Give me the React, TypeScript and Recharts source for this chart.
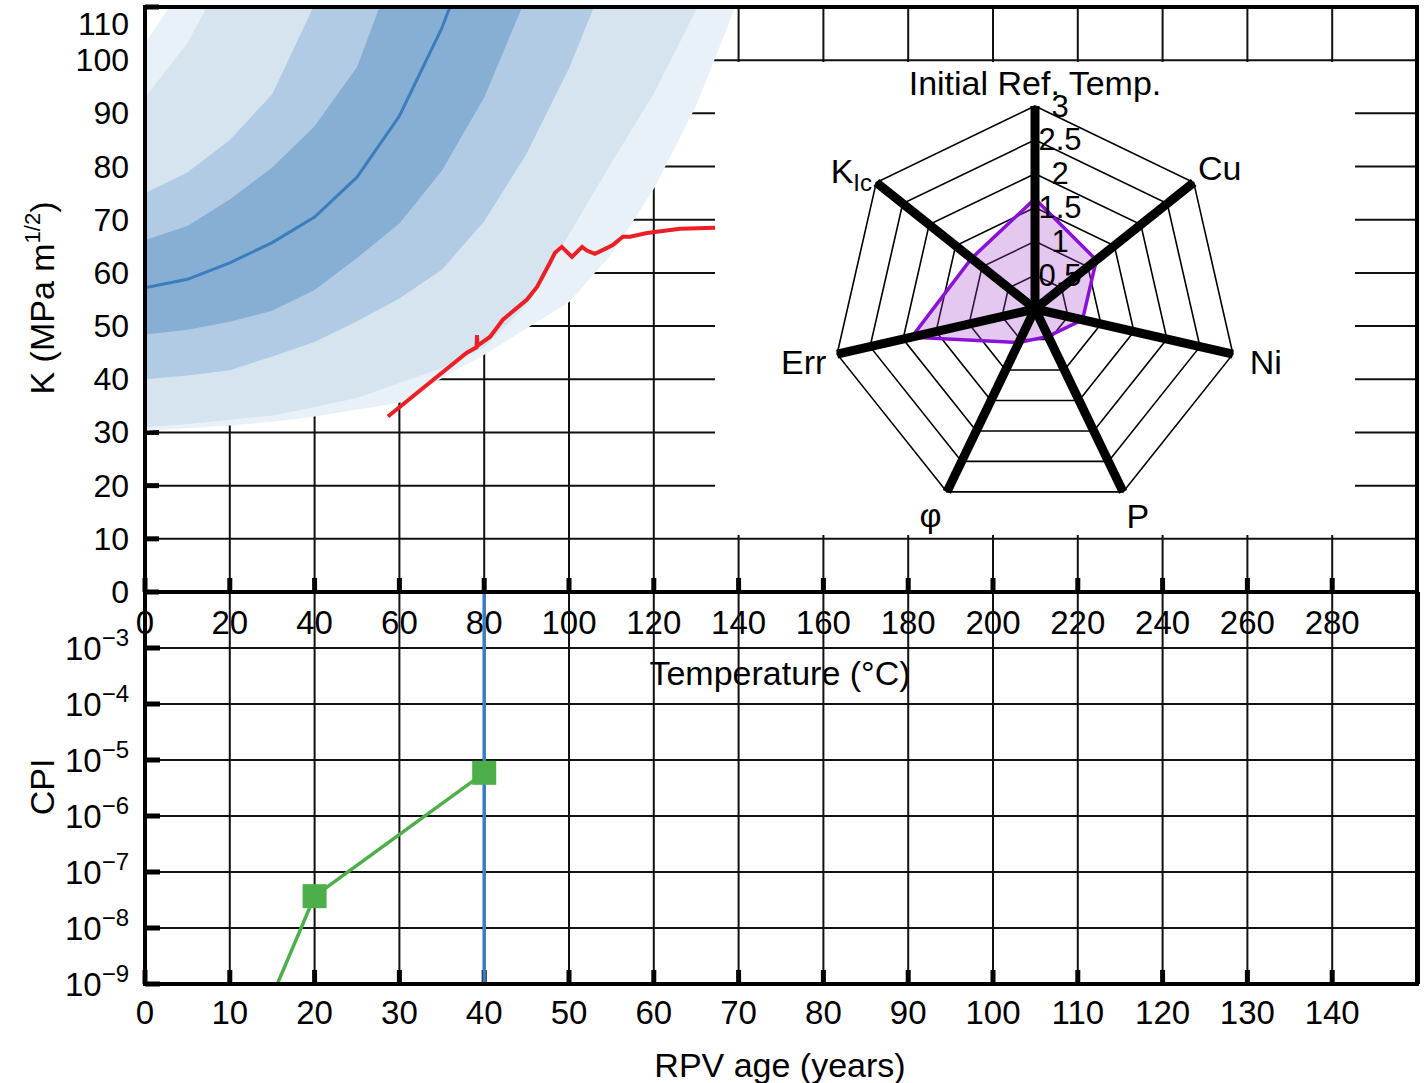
import React from 'react';
import {
  ComposedChart,
  Area,
  Line,
  XAxis,
  YAxis,
  CartesianGrid,
  ReferenceArea,
  ReferenceLine,
  RadarChart,
  PolarGrid,
  PolarAngleAxis,
  PolarRadiusAxis,
  Radar,
} from 'recharts';

const FONT = '"Liberation Sans", Arial, Helvetica, sans-serif';
const TICK_FONT = 33;

// ---------------- Top panel (master curve) ----------------
const tempTicks = [0, 20, 40, 60, 80, 100, 120, 140, 160, 180, 200, 220, 240, 260, 280];
const kTicks = [0, 10, 20, 30, 40, 50, 60, 70, 80, 90, 100, 110];

const bandTemps = [0, 10, 20, 30, 40, 50, 60, 70, 80, 90, 100, 110, 120, 130, 140, 150];
const upperOuter = [103.2, 115, 150, 150, 150, 150, 150, 150, 150, 150, 150, 150, 150, 150, 150, 150];
const upperWide = [93, 103.2, 118, 150, 150, 150, 150, 150, 150, 150, 150, 150, 150, 150, 150, 150];
const upperMid = [75, 78.9, 85, 93.6, 110.5, 135, 150, 150, 150, 150, 150, 150, 150, 150, 150, 150];
const upperInner = [66.2, 68.8, 73.8, 79.8, 87.6, 98.7, 120, 150, 150, 150, 150, 150, 150, 150, 150, 150];
const medianK = [57.2, 58.8, 61.9, 65.7, 70.5, 78, 89.5, 106, 127, 150, 150, 150, 150, 150, 150, 150];
const lowerInner = [48.4, 49.3, 50.8, 52.9, 56.8, 62.8, 69.3, 79.2, 93, 112, 150, 150, 150, 150, 150, 150];
const lowerMid = [40, 40.7, 41.7, 44.3, 47, 50.9, 55.2, 60.6, 69.7, 82.4, 98.5, 118, 150, 150, 150, 150];
const lowerWide = [31, 31.6, 32.4, 33.2, 34.8, 36.5, 39.3, 42.1, 46, 54, 67.2, 80.7, 93.7, 109.5, 125, 150];
const lowerOuter = [30.3, 30.8, 31.3, 32, 33, 34.3, 35.6, 40.2, 44.6, 49.6, 54.5, 63.5, 75.8, 91.5, 111.5, 135];

const measuredT = [57.3, 67.2, 75.9, 78.2, 78.3, 78.4, 81.4, 84.4, 90.1, 92.5, 95.5, 96.7, 98.3, 100.7, 103.1, 104.2, 106.1, 109, 110.4, 112.7, 114.4, 118.4, 126.2, 134.4, 140];
const measuredK = [33, 39.4, 45, 46.0, 48.3, 46.3, 48, 51.2, 55, 57.4, 61.9, 63.8, 64.9, 63, 64.9, 64.2, 63.6, 64.7, 65.3, 66.8, 66.8, 67.5, 68.3, 68.5, 68.6];

const bandData = bandTemps.map((t, i) => ({
  t,
  outer: [lowerOuter[i], upperOuter[i]],
  wide: [lowerWide[i], upperWide[i]],
  mid: [lowerMid[i], upperMid[i]],
  inner: [lowerInner[i], upperInner[i]],
  median: medianK[i],
}));
const measuredData = measuredT.map((t, i) => ({ t, k: measuredK[i] }));

// ---------------- Bottom panel (CPI) ----------------
const ageTicks = [0, 10, 20, 30, 40, 50, 60, 70, 80, 90, 100, 110, 120, 130, 140];
const cpiTicks = [1e-9, 1e-8, 1e-7, 1e-6, 1e-5, 1e-4, 1e-3];
const minorMultipliers = [2, 3, 4, 5, 6, 7, 8, 9];
const minorDecades = [1e-9, 1e-8, 1e-7, 1e-6, 1e-5, 1e-4, 1e-3];
const cpiMinorTicks = minorDecades.flatMap((d) => minorMultipliers.map((m) => m * d));
const ageYears = [10, 20, 40];
const cpiValues = [1e-11, 3.7e-8, 5.9e-6];
const designLife = 40;
const cpiData = ageYears.map((a, i) => ({ age: a, cpi: cpiValues[i] }));

// ---------------- Radar inset ----------------
const radarAxes = ['Initial Ref. Temp.', 'Cu', 'Ni', 'P', 'φ', 'Err', 'K_Ic'];
const radarValues = [1.63, 1.16, 0.72, 0.45, 0.55, 1.87, 1.2];
const radarTicks = [0, 0.5, 1, 1.5, 2, 2.5, 3];
const radarData = radarAxes.map((a, i) => ({ axis: a, value: radarValues[i] }));

const angleLabelStyle = [
  { dx: 0, dy: -3, anchor: 'middle' },
  { dx: -2, dy: 3, anchor: 'start' },
  { dx: 9, dy: 18, anchor: 'start' },
  { dx: 0, dy: 29, anchor: 'start' },
  { dx: -13, dy: 28, anchor: 'middle' },
  { dx: -3, dy: 18, anchor: 'end' },
  { dx: 2, dy: 6, anchor: 'end' },
];

const C = {
  outer: '#e8f0f8',
  wide: '#d6e4f0',
  mid: '#b0cbe3',
  inner: '#87afd4',
  median: '#3b7dbf',
  red: '#ec1f26',
  green: '#4daf4a',
};

const tickLineStyle = { stroke: '#000', strokeWidth: 5 };
const minorTickStyle = { stroke: '#000', strokeWidth: 3 };
const axisLineStyle = { stroke: '#000', strokeWidth: 4 };

function TempTick(props: any) {
  const { x, y, payload } = props;
  return (
    <text x={x} y={y} textAnchor="middle" dominantBaseline="central" fontFamily={FONT} fontSize={TICK_FONT} fill="#000">
      {payload.value}
    </text>
  );
}

function KTick(props: any) {
  const { x, y, payload } = props;
  const dy = payload.value === 110 ? 17 : 0;
  return (
    <text x={x} y={y + dy} textAnchor="end" dominantBaseline="central" fontFamily={FONT} fontSize={32} fill="#000">
      {payload.value}
    </text>
  );
}

function AgeTick(props: any) {
  const { x, y, payload } = props;
  return (
    <text x={x} y={y} textAnchor="middle" dominantBaseline="central" fontFamily={FONT} fontSize={TICK_FONT} fill="#000">
      {payload.value}
    </text>
  );
}

function CpiTick(props: any) {
  const { x, y, payload } = props;
  const exp = Math.round(Math.log10(payload.value));
  return (
    <text x={x} y={y} textAnchor="end" fontFamily={FONT} fill="#000">
      <tspan fontSize={TICK_FONT} dy={12}>10</tspan>
      <tspan fontSize={24} dy={-14}>{'\u2212' + Math.abs(exp)}</tspan>
    </text>
  );
}

function AngleTick(props: any) {
  const { x, y, payload } = props;
  const idx = radarAxes.indexOf(payload.value);
  const s = angleLabelStyle[idx >= 0 ? idx : 0];
  if (payload.value === 'K_Ic') {
    return (
      <text x={x + s.dx} y={y + s.dy} textAnchor={s.anchor as any} fontFamily={FONT} fontSize={34} fill="#000">
        <tspan>K</tspan>
        <tspan fontSize={24} dy={8}>Ic</tspan>
      </text>
    );
  }
  return (
    <text x={x + s.dx} y={y + s.dy} textAnchor={s.anchor as any} fontFamily={FONT} fontSize={34} fill="#000">
      {payload.value}
    </text>
  );
}

function RadiusTick(props: any) {
  const { x, y, payload } = props;
  if (payload.value === 0) return <g />;
  return (
    <text x={x + 25} y={y} textAnchor="middle" dominantBaseline="central" fontFamily={FONT} fontSize={31} fill="#000">
      {payload.value}
    </text>
  );
}

function TopChart() {
  return (
    <ComposedChart width={1426} height={700} data={bandData} margin={{ top: 6, right: 8, bottom: 107, left: 144 }}>
      <CartesianGrid stroke="#111" strokeWidth={2} zIndex={-100} />
      <XAxis
        dataKey="t"
        type="number"
        domain={[0, 300]}
        ticks={tempTicks}
        interval={0}
        allowDataOverflow
        height={1}
        tickSize={-14}
        tickMargin={44}
        tickLine={tickLineStyle}
        axisLine={axisLineStyle}
        tick={(p: any) => <TempTick {...p} />}
        zIndex={50}
      />
      <XAxis
        xAxisId="top"
        orientation="top"
        dataKey="t"
        type="number"
        domain={[0, 300]}
        ticks={tempTicks}
        interval={0}
        allowDataOverflow
        height={1}
        tickSize={-14}
        tickLine={tickLineStyle}
        axisLine={axisLineStyle}
        tick={false}
        zIndex={50}
      />
      <YAxis
        type="number"
        domain={[0, 110]}
        ticks={kTicks}
        interval={0}
        allowDataOverflow
        width={1}
        tickSize={-14}
        tickMargin={30}
        tickLine={tickLineStyle}
        axisLine={axisLineStyle}
        tick={(p: any) => <KTick {...p} />}
        zIndex={50}
      />
      <YAxis
        yAxisId="right"
        orientation="right"
        type="number"
        domain={[0, 110]}
        ticks={kTicks}
        interval={0}
        allowDataOverflow
        width={1}
        tickSize={-14}
        tickLine={tickLineStyle}
        axisLine={axisLineStyle}
        tick={false}
        zIndex={50}
      />
      <Area type="linear" dataKey="outer" stroke="none" fill={C.outer} fillOpacity={1} isAnimationActive={false} zIndex={100} />
      <Area type="linear" dataKey="wide" stroke="none" fill={C.wide} fillOpacity={1} isAnimationActive={false} zIndex={101} />
      <Area type="linear" dataKey="mid" stroke="none" fill={C.mid} fillOpacity={1} isAnimationActive={false} zIndex={102} />
      <Area type="linear" dataKey="inner" stroke="none" fill={C.inner} fillOpacity={1} isAnimationActive={false} zIndex={103} />
      <Line type="linear" dataKey="median" stroke={C.median} strokeWidth={3} dot={false} isAnimationActive={false} zIndex={400} />
      <Line
        type="linear"
        data={measuredData}
        dataKey="k"
        stroke={C.red}
        strokeWidth={4}
        dot={false}
        isAnimationActive={false}
        zIndex={401}
      />
      <ReferenceArea x1={0} x2={300} y1={0} y2={110} fill="none" stroke="#000" strokeWidth={4} ifOverflow="visible" zIndex={600} />
    </ComposedChart>
  );
}

function BottomChart() {
  return (
    <ComposedChart width={1426} height={1083} data={cpiData} margin={{ top: 592, right: 7, bottom: 98, left: 143 }}>
      <CartesianGrid stroke="#111" strokeWidth={2} zIndex={-100} />
      <XAxis
        dataKey="age"
        type="number"
        domain={[0, 150]}
        ticks={ageTicks}
        interval={0}
        allowDataOverflow
        height={1}
        tickSize={-14}
        tickMargin={42}
        tickLine={tickLineStyle}
        axisLine={axisLineStyle}
        tick={(p: any) => <AgeTick {...p} />}
        zIndex={50}
      />
      <YAxis
        type="number"
        scale="log"
        domain={[1e-9, 1e-2]}
        ticks={cpiTicks}
        interval={0}
        allowDataOverflow
        width={1}
        tickSize={-15}
        tickMargin={31}
        tickLine={tickLineStyle}
        axisLine={axisLineStyle}
        tick={(p: any) => <CpiTick {...p} />}
        zIndex={50}
      />
      <YAxis
        yAxisId="minorL"
        type="number"
        scale="log"
        domain={[1e-9, 1e-2]}
        ticks={cpiMinorTicks}
        interval={0}
        allowDataOverflow
        width={1}
        tickSize={-9}
        tickLine={minorTickStyle}
        axisLine={false}
        tick={false}
        zIndex={50}
      />
      <YAxis
        yAxisId="right"
        orientation="right"
        type="number"
        scale="log"
        domain={[1e-9, 1e-2]}
        ticks={cpiTicks}
        interval={0}
        allowDataOverflow
        width={1}
        tickSize={-15}
        tickLine={tickLineStyle}
        axisLine={axisLineStyle}
        tick={false}
        zIndex={50}
      />
      <YAxis
        yAxisId="minorR"
        orientation="right"
        type="number"
        scale="log"
        domain={[1e-9, 1e-2]}
        ticks={cpiMinorTicks}
        interval={0}
        allowDataOverflow
        width={1}
        tickSize={-9}
        tickLine={minorTickStyle}
        axisLine={false}
        tick={false}
        zIndex={50}
      />
      <Line
        type="linear"
        dataKey="cpi"
        stroke={C.green}
        strokeWidth={3.5}
        isAnimationActive={false}
        zIndex={400}
        dot={(p: any) =>
          p.cx == null || p.cy == null ? (
            <g key={p.index} />
          ) : (
            <rect key={p.index} x={p.cx - 12} y={p.cy - 12} width={24} height={24} fill={C.green} />
          )
        }
      />
      <ReferenceLine x={designLife} stroke={C.median} strokeWidth={3.5} ifOverflow="visible" zIndex={500} />
      <ReferenceArea x1={0} x2={150} y1={1e-9} y2={1e-2} fill="none" stroke="#000" strokeWidth={4} ifOverflow="visible" zIndex={600} />
    </ComposedChart>
  );
}

function RadarInset() {
  return (
    <RadarChart
      width={640}
      height={473}
      data={radarData}
      cx={320}
      cy={247}
      outerRadius={203}
      startAngle={90}
      endAngle={-270}
      margin={{ top: 0, right: 0, bottom: 0, left: 0 }}
    >
      <PolarGrid gridType="polygon" radialLines={false} stroke="#000" strokeWidth={1.6} zIndex={-100} />
      <Radar
        dataKey="value"
        stroke="#8a12d8"
        strokeWidth={3.5}
        fill="#a548cd"
        fillOpacity={0.3}
        dot={false}
        isAnimationActive={false}
        zIndex={100}
      />
      <PolarGrid gridType="polygon" polarRadius={[1]} radialLines stroke="#000" strokeWidth={9} zIndex={300} />
      <PolarAngleAxis dataKey="axis" tick={(p: any) => <AngleTick {...p} />} axisLine={false} tickLine={false} zIndex={500} />
      <PolarRadiusAxis
        angle={90}
        type="number"
        domain={[0, 3]}
        ticks={radarTicks as any}
        tickCount={7}
        allowDecimals
        axisLine={false}
        tickLine={false}
        tick={(p: any) => <RadiusTick {...p} />}
        zIndex={500}
      />
    </RadarChart>
  );
}

const titleBase: React.CSSProperties = {
  position: 'absolute',
  fontFamily: FONT,
  fontSize: 34,
  color: '#000',
  whiteSpace: 'nowrap',
  lineHeight: 1,
  zIndex: 1,
};

export default function App() {
  return (
    <div style={{ position: 'absolute', left: 0, top: 0, width: 1426, height: 1083, background: '#fff', overflow: 'hidden' }}>
      <div style={{ position: 'absolute', left: 0, top: 0, zIndex: 1 }}>
        <TopChart />
      </div>
      <div style={{ ...titleBase, left: 42, top: 298, transform: 'translate(-50%, -50%) rotate(-90deg)' }}>
        K (MPa m<span style={{ fontSize: 22, position: 'relative', top: -14 }}>1/2</span>)
      </div>
      <div style={{ ...titleBase, left: 42, top: 787, transform: 'translate(-50%, -50%) rotate(-90deg)' }}>CPI</div>
      <div style={{ ...titleBase, left: 780, top: 673, transform: 'translate(-50%, -50%)' }}>Temperature (°C)</div>
      <div style={{ ...titleBase, left: 780, top: 1065, transform: 'translate(-50%, -50%)' }}>RPV age (years)</div>
      <div style={{ position: 'absolute', left: 0, top: 0, zIndex: 2, pointerEvents: 'none' }}>
        <BottomChart />
      </div>
      <div style={{ position: 'absolute', left: 715, top: 62, width: 640, height: 473, background: '#fff', zIndex: 3 }}>
        <RadarInset />
      </div>
    </div>
  );
}
